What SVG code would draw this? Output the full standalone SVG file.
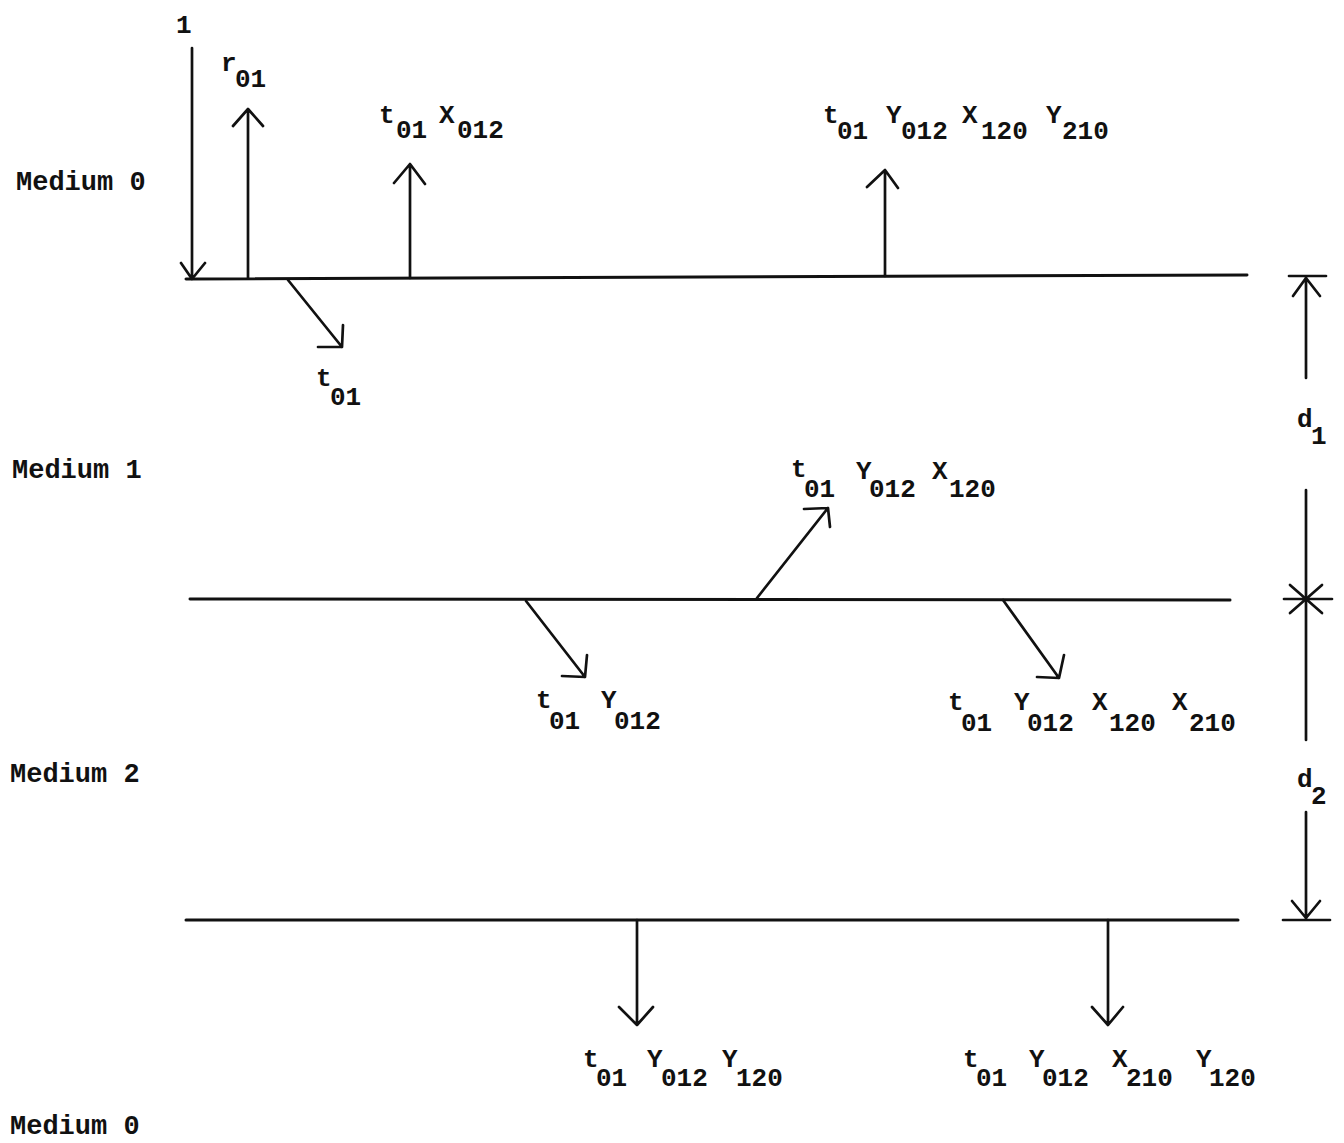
<svg xmlns="http://www.w3.org/2000/svg" width="1344" height="1143" viewBox="0 0 1344 1143">
<style>
  text { font-family: "Liberation Mono", "DejaVu Sans Mono", monospace; font-weight: bold; font-size: 26px; fill: #111; }
  .med { font-size: 27px; }
  .ln { stroke: #111; stroke-width: 3; fill: none; stroke-linecap: round; }
  .ar { stroke: #111; stroke-width: 2.7; fill: none; stroke-linecap: round; stroke-linejoin: round; }
</style>
<rect width="1344" height="1143" fill="#ffffff"/>

<g id="media-labels">
  <text id="medium0-top" class="med" x="16" y="190">Medium 0</text>
  <text id="medium1" class="med" x="12" y="478">Medium 1</text>
  <text id="medium2" class="med" x="10" y="782">Medium 2</text>
  <text id="medium0-bottom" class="med" x="10" y="1134">Medium 0</text>
</g>

<g id="interfaces">
  <line class="ln" x1="186" y1="279" x2="1247" y2="275"/>
  <line class="ln" x1="190" y1="599" x2="1230" y2="600"/>
  <line class="ln" x1="186" y1="920" x2="1238" y2="920"/>
</g>

<g id="connectors">
  <path class="ar" d="M192 48 L192 279 M181 263 L192 279 L205 263"/>
  <path class="ar" d="M248 278 L248 109 M233 126 L248 109 L263 126"/>
  <path class="ar" d="M410 278 L410 164 M394 183 L410 164 L425 184"/>
  <path class="ar" d="M885 276 L885 170 M867 187 L885 170 L898 188"/>
  <path class="ar" d="M288 280 L342 347 M318 347 L342 347 L343 325"/>
  <path class="ar" d="M757 598 L828 508 M804 509 L828 508 L830 527"/>
  <path class="ar" d="M526 601 L585 677 M562 676 L585 677 L587 655"/>
  <path class="ar" d="M1003 600 L1059 678 M1037 677 L1059 678 L1064 655"/>
  <path class="ar" d="M637 920 L637 1025 M619 1007 L637 1025 L653 1007"/>
  <path class="ar" d="M1108 920 L1108 1025 M1092 1007 L1108 1025 L1123 1007"/>
</g>

<g id="dimension">
  <path class="ar" d="M1289 276 L1326 276 M1306 277 L1306 378 M1293 296 L1306 278 L1320 296"/>
  <path class="ar" d="M1306 490 L1306 740"/>
  <path class="ar" d="M1284 599 L1332 599 M1290 585 L1322 613 M1290 613 L1322 585"/>
  <path class="ar" d="M1306 812 L1306 919 M1283 920 L1330 920 M1292 901 L1306 918 L1320 901"/>
  <text id="d1"><tspan x="1297" y="427">d</tspan><tspan x="1311" y="444">1</tspan></text>
  <text id="d2"><tspan x="1297" y="787">d</tspan><tspan x="1311" y="804">2</tspan></text>
</g>

<g id="labels">
  <text id="incident-1" x="176" y="33">1</text>
  <text id="lbl-r01"><tspan x="221" y="71">r</tspan><tspan x="235" y="87">01</tspan></text>
  <text id="lbl-t01-X012"><tspan x="379" y="123">t</tspan><tspan x="396" y="138">01</tspan><tspan x="439" y="123">X</tspan><tspan x="457" y="138">012</tspan></text>
  <text id="lbl-top-long"><tspan x="823" y="123">t</tspan><tspan x="837" y="139">01</tspan><tspan x="886" y="123">Y</tspan><tspan x="901" y="139">012</tspan><tspan x="962" y="123">X</tspan><tspan x="981" y="139">120</tspan><tspan x="1046" y="123">Y</tspan><tspan x="1062" y="139">210</tspan></text>
  <text id="lbl-t01"><tspan x="316" y="386">t</tspan><tspan x="330" y="405">01</tspan></text>
  <text id="lbl-up-mid"><tspan x="791" y="477">t</tspan><tspan x="804" y="497">01</tspan><tspan x="856" y="479">Y</tspan><tspan x="869" y="497">012</tspan><tspan x="932" y="479">X</tspan><tspan x="949" y="497">120</tspan></text>
  <text id="lbl-t01-Y012"><tspan x="536" y="708">t</tspan><tspan x="549" y="729">01</tspan><tspan x="601" y="708">Y</tspan><tspan x="614" y="729">012</tspan></text>
  <text id="lbl-mid-right"><tspan x="948" y="710">t</tspan><tspan x="961" y="731">01</tspan><tspan x="1014" y="710">Y</tspan><tspan x="1027" y="731">012</tspan><tspan x="1092" y="710">X</tspan><tspan x="1109" y="731">120</tspan><tspan x="1172" y="710">X</tspan><tspan x="1189" y="731">210</tspan></text>
  <text id="lbl-bottom-left"><tspan x="583" y="1067">t</tspan><tspan x="596" y="1086">01</tspan><tspan x="647" y="1067">Y</tspan><tspan x="661" y="1086">012</tspan><tspan x="722" y="1067">Y</tspan><tspan x="736" y="1086">120</tspan></text>
  <text id="lbl-bottom-right"><tspan x="963" y="1067">t</tspan><tspan x="976" y="1086">01</tspan><tspan x="1029" y="1067">Y</tspan><tspan x="1042" y="1086">012</tspan><tspan x="1112" y="1067">X</tspan><tspan x="1126" y="1086">210</tspan><tspan x="1196" y="1067">Y</tspan><tspan x="1209" y="1086">120</tspan></text>
</g>
</svg>
